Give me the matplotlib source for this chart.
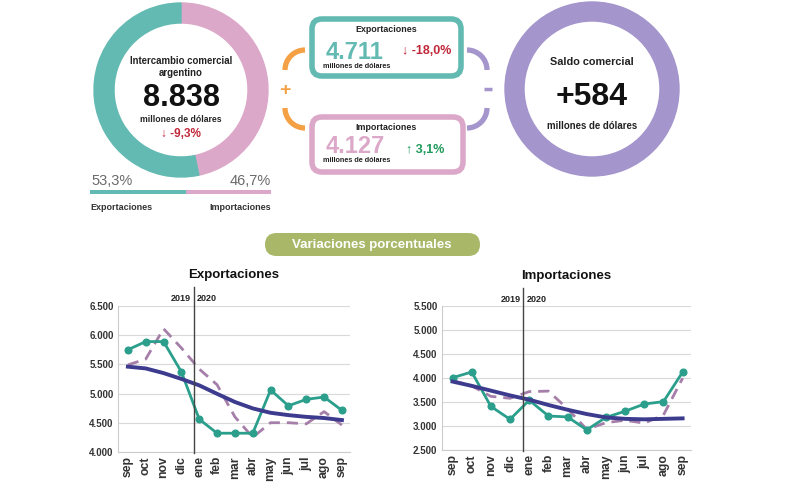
import numpy as np
import matplotlib.pyplot as plt
from matplotlib.patches import Wedge, FancyBboxPatch, Arc, Rectangle

plt.rcParams['font.family'] = ['Liberation Sans', 'DejaVu Sans']
plt.rcParams['font.weight'] = 'bold'

# data
shares = [53.3, 46.7]            # exportaciones, importaciones (% del intercambio)
intercambio = "8.838"
var_intercambio = "-9,3%"
expo_total = "4.711"
var_expo = "-18,0%"
impo_total = "4.127"
var_impo = "3,1%"
saldo = "+584"

meses = ['sep', 'oct', 'nov', 'dic', 'ene', 'feb', 'mar', 'abr', 'may', 'jun', 'jul', 'ago', 'sep']
expo_orig = [5750, 5890, 5890, 5370, 4560, 4320, 4320, 4320, 5060, 4790, 4900, 4940, 4711]
expo_desest = [5490, 5590, 6110, 5780, 5420, 5150, 4600, 4250, 4500, 4500, 4480, 4690, 4460]
expo_tend = [5460, 5430, 5350, 5250, 5140, 4995, 4855, 4745, 4670, 4630, 4600, 4580, 4545]
impo_orig = [4010, 4130, 3410, 3140, 3540, 3210, 3190, 2920, 3180, 3310, 3460, 3510, 4127]
impo_desest = [3950, 3840, 3620, 3580, 3720, 3730, 3360, 2930, 3070, 3120, 3060, 3230, 4000]
impo_tend = [3930, 3840, 3740, 3640, 3550, 3440, 3340, 3250, 3180, 3150, 3140, 3150, 3160]

TEAL = '#63bab2'
PINK = '#dca8c9'
PURPLE = '#a495cc'
ORANGE = '#f4a146'
RED = '#c0283a'
GREEN = '#1e9a5a'
LINE_TEAL = '#2b9f8c'
NAVY = '#3d3b8e'
DASH = '#a57fa9'
INK = '#222222'

fig = plt.figure(figsize=(7.9, 4.88), dpi=100)

# top infographic, drawn in pixel coordinates
top = fig.add_axes([0, 0, 1, 1])
top.set_xlim(0, 790)
top.set_ylim(488, 0)
top.axis('off')

def arc(cx, cy, r, a1, a2, color):
    # angles given visually (y axis inverted -> negate)
    top.add_patch(Arc((cx, cy), 2 * r, 2 * r, theta1=-a2, theta2=-a1, color=color, lw=3.8))

# donut
cx, cy, R, W = 181, 90, 87, 20
ang_imp = shares[1] / 100 * 360
top.add_patch(Wedge((cx, cy), R, -90, -90 + ang_imp, width=W, color=PINK))
top.add_patch(Wedge((cx, cy), R, -90 + ang_imp, 270, width=W, color=TEAL))
top.text(cx, 61, "Intercambio comercial", ha='center', va='center', fontsize=6.9, color=INK)
top.text(cx, 73, "argentino", ha='center', va='center', fontsize=6.9, color=INK)
top.text(cx, 106, intercambio, ha='center', va='baseline', fontsize=22, color='#111111')
top.text(cx, 119, "millones de dólares", ha='center', va='center', fontsize=6.2, color=INK)
top.text(cx, 134, "\u2193 " + var_intercambio, ha='center', va='center', fontsize=8.5, color=RED)

# share bar
x0, x1 = 90, 271
xm = x0 + (x1 - x0) * shares[0] / 100
top.add_patch(Rectangle((x0, 190), xm - x0, 4, color=TEAL, lw=0))
top.add_patch(Rectangle((xm, 190), x1 - xm, 4, color=PINK, lw=0))
top.text(x0 + 1, 181, f"{shares[0]:.1f}%".replace('.', ','), ha='left', va='center', fontsize=10.5,
         color='#6a6a6a', fontweight='normal')
top.text(x1, 181, f"{shares[1]:.1f}%".replace('.', ','), ha='right', va='center', fontsize=10.5,
         color='#6a6a6a', fontweight='normal')
top.text(x0, 208, "Exportaciones", ha='left', va='center', fontsize=6.5, color='#333333')
top.text(x1, 208, "Importaciones", ha='right', va='center', fontsize=6.5, color='#333333')

# brackets
arc(305, 70, 20, 90, 180, ORANGE)
arc(305, 108, 20, 180, 270, ORANGE)
top.text(285, 90, "+", ha='center', va='center', fontsize=14, color=ORANGE)
arc(467, 70, 20, 0, 90, PURPLE)
arc(467, 108, 20, 270, 360, PURPLE)
top.plot([484, 492], [89, 89], color=PURPLE, lw=2.5, solid_capstyle='butt')

# boxes
top.add_patch(FancyBboxPatch((312, 19), 149, 57, boxstyle="round,pad=0,rounding_size=10",
                             fc='white', ec=TEAL, lw=4))
top.text(386, 30, "Exportaciones", ha='center', va='center', fontsize=6.4, color=INK)
top.text(326, 59, expo_total, ha='left', va='baseline', fontsize=17, color=TEAL)
top.text(323, 66, "millones de dólares", ha='left', va='center', fontsize=5.2, color=INK)
top.text(402, 51, "\u2193 " + var_expo, ha='left', va='center', fontsize=9, color=RED)

top.add_patch(FancyBboxPatch((312, 117), 151, 55, boxstyle="round,pad=0,rounding_size=10",
                             fc='white', ec=PINK, lw=4))
top.text(386, 128, "Importaciones", ha='center', va='center', fontsize=6.4, color=INK)
top.text(326, 153, impo_total, ha='left', va='baseline', fontsize=17, color=PINK)
top.text(323, 161, "millones de dólares", ha='left', va='center', fontsize=5.2, color=INK)
top.text(406, 150, "\u2191 " + var_impo, ha='left', va='center', fontsize=9, color=GREEN)

# saldo circle
top.add_patch(Wedge((592, 89), 87, 0, 360, width=19, color=PURPLE))
top.text(592, 62, "Saldo comercial", ha='center', va='center', fontsize=7.8, color=INK)
top.text(592, 105, saldo, ha='center', va='baseline', fontsize=23, color='#111111')
top.text(592, 126, "millones de dólares", ha='center', va='center', fontsize=6.9, color=INK)

# pill
top.add_patch(FancyBboxPatch((265, 233), 215, 23, boxstyle="round,pad=0,rounding_size=11.5",
                             fc='#a9b769', ec='none'))
top.text(372, 245, "Variaciones porcentuales", ha='center', va='center', fontsize=9.5, color='white')

# line charts
def line_chart(rect, orig, desest, tend, ylo, yhi, title):
    ax = fig.add_axes(rect)
    x = np.arange(len(meses))
    ax.plot(x, desest, color=DASH, lw=2, dashes=(4, 2.5), zorder=3)
    ax.plot(x, orig, color=LINE_TEAL, lw=2, marker='o', ms=4.8, zorder=4)
    ax.plot(x, tend, color=NAVY, lw=2.8, zorder=5)
    ax.set_xlim(-0.57, 12.45)
    ax.set_ylim(ylo, yhi)
    ticks = np.arange(ylo, yhi + 1, 500)
    ax.set_yticks(ticks)
    ax.set_yticklabels([f"{t:,.0f}".replace(',', '.') for t in ticks], fontsize=7, color='#333333')
    ax.set_xticks(x)
    ax.set_xticklabels(meses, rotation=90, fontsize=8.8, color='#333333')
    ax.tick_params(length=0, pad=3)
    ax.grid(axis='y', color='#d9d9d9', lw=0.8)
    for s in ['top', 'right']:
        ax.spines[s].set_visible(False)
    for s in ['left', 'bottom']:
        ax.spines[s].set_color('#cccccc')
    ax.set_axisbelow(True)
    ax.axvline(3.7, ymin=-0.01, ymax=1.13, color='#444444', lw=1, clip_on=False, zorder=6)
    ax.text(3.55, 1.05, "2019", transform=ax.get_xaxis_transform(), ha='right', va='center',
            fontsize=6.5, color=INK)
    ax.text(3.85, 1.05, "2020", transform=ax.get_xaxis_transform(), ha='left', va='center',
            fontsize=6.5, color=INK)
    ax.set_title(title, fontsize=9.5, fontweight='bold', pad=20, color='#111111')
    return ax

line_chart([0.149, 0.074, 0.294, 0.299], expo_orig, expo_desest, expo_tend, 4000, 6500, "Exportaciones")
line_chart([0.559, 0.078, 0.316, 0.294], impo_orig, impo_desest, impo_tend, 2500, 5500, "Importaciones")

fig.savefig('out.png', dpi=100)
